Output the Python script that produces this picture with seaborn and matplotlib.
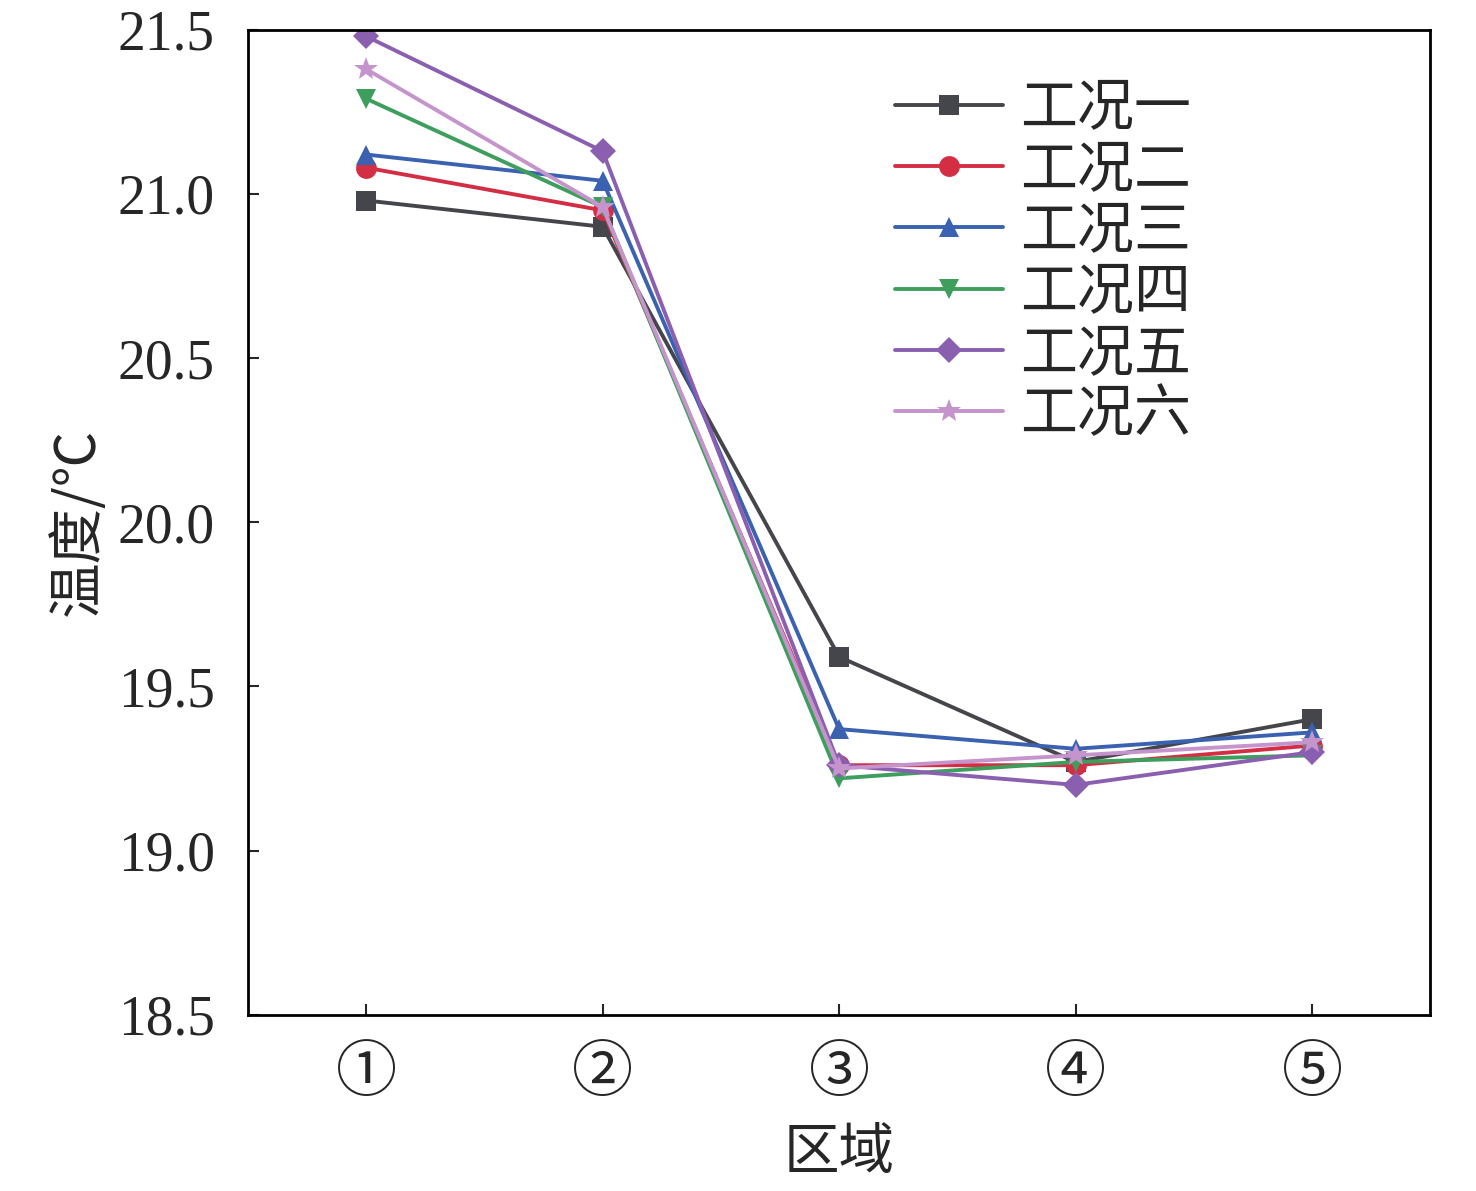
"""
温度分布 - 各工况区域温度折线图
"""

import pandas as pd
import seaborn as sns
import matplotlib
import matplotlib.pyplot as plt

matplotlib.use("Agg")

# data
regions = ["①", "②", "③", "④", "⑤"]
cases = ["工况一", "工况二", "工况三", "工况四", "工况五", "工况六"]
case1 = [20.98, 20.90, 19.59, 19.27, 19.40]
case2 = [21.08, 20.95, 19.26, 19.26, 19.32]
case3 = [21.12, 21.04, 19.37, 19.31, 19.36]
case4 = [21.29, 20.96, 19.22, 19.27, 19.29]
case5 = [21.48, 21.13, 19.26, 19.20, 19.30]
case6 = [21.38, 20.96, 19.25, 19.29, 19.33]

colors = ["#45464b", "#d42e44", "#3a62b0", "#3e9e5d", "#8a5fb0", "#c594cc"]
markers = ["s", "o", "^", "v", "D", "*"]
yticks = [18.5, 19.0, 19.5, 20.0, 20.5, 21.0, 21.5]

sns.set_style("ticks")
plt.rcParams["font.family"] = ["Liberation Serif", "Noto Sans CJK SC", "DejaVu Sans"]
plt.rcParams["axes.unicode_minus"] = False
cjk = ["Noto Sans CJK SC", "DejaVu Sans"]

rows = []
for name, vals in zip(cases, [case1, case2, case3, case4, case5, case6]):
    for i, v in enumerate(vals):
        rows.append({"region": i, "case": name, "temp": v})
df = pd.DataFrame(rows)

fig = plt.figure(figsize=(14.76, 11.91), dpi=100)
ax = fig.add_axes([0.168, 0.148, 0.801, 0.827])

sns.lineplot(
    data=df,
    x="region",
    y="temp",
    hue="case",
    style="case",
    hue_order=cases,
    style_order=cases,
    palette=colors,
    markers=markers,
    dashes=False,
    linewidth=2.8,
    markersize=15,
    markeredgewidth=0,
    legend=False,
    ax=ax,
)
# diamond / star size like the original
sizes = {"D": 13, "*": 18}
for line, m in zip(ax.lines, markers):
    if m in sizes:
        line.set_markersize(sizes[m])

ax.set_xlim(-0.5, 4.5)
ax.set_ylim(18.5, 21.5)
ax.set_xticks(range(len(regions)))
ax.set_xticklabels(regions, fontsize=44, family=cjk)
ax.set_yticks(yticks)
ax.set_yticklabels([f"{t:.1f}" for t in yticks], fontsize=40)
ax.tick_params(direction="in", length=8, width=1.5)
ax.tick_params(axis="x", pad=20)
ax.tick_params(axis="y", pad=24)
for s in ax.spines.values():
    s.set_linewidth(2)
    s.set_color("black")

ax.set_xlabel("区域", fontsize=40, family=cjk, labelpad=14)
ax.set_ylabel("温度/℃", fontsize=40, family=cjk, labelpad=8)

# legend built from the drawn lines so marker sizes match
leg = ax.legend(
    handles=ax.lines[: len(cases)],
    labels=cases,
    loc="upper left",
    bbox_to_anchor=(0.547, 0.95),
    frameon=False,
    borderpad=0,
    borderaxespad=0,
    handlelength=1.9,
    handletextpad=0.3,
    labelspacing=0.05,
    prop={"family": cjk, "size": 41},
)

fig.savefig("out.png", dpi=100)
